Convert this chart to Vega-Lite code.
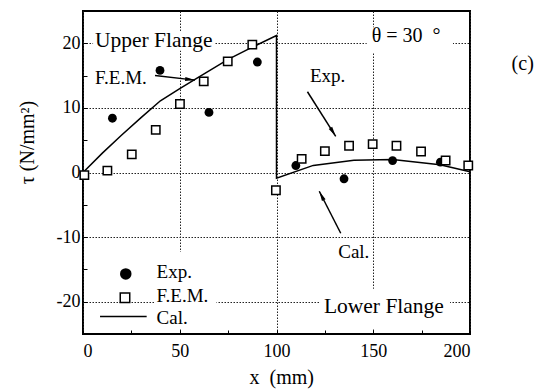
{
  "$schema": "https://vega.github.io/schema/vega-lite/v6.json",
  "autosize": {"type": "none"},
  "padding": {"left": 83, "top": 11, "right": 69, "bottom": 58},
  "width": 387,
  "height": 323,
  "background": "white",
  "config": {
    "font": "Liberation Serif",
    "view": {"stroke": "black", "strokeWidth": 2},
    "axis": {
      "domain": false,
      "tickColor": "black",
      "tickWidth": 1,
      "tickSize": -4,
      "labelColor": "black",
      "labelFont": "Liberation Serif",
      "labelFontSize": 18,
      "titleFont": "Liberation Serif",
      "titleFontSize": 20,
      "titleFontWeight": "normal",
      "titleColor": "black",
      "gridColor": "#222",
      "gridDash": [1.5, 1.5],
      "gridWidth": 1
    }
  },
  "datasets": {
    "boxes": [
      {"x": 5.2, "x2": 68.2, "y": 18.9, "y2": 21.8},
      {"x": 146.6, "x2": 191.2, "y": 18.5, "y2": 22.5},
      {"x": 122.5, "x2": 189.7, "y": -24.2, "y2": -18},
      {"x": 37, "x2": 69, "y": -24.2, "y2": -12.3}
    ],
    "lines": [
      {"id": "cal", "seq": 1, "x": 0, "y": 0},
      {"id": "cal", "seq": 2, "x": 10, "y": 3.0},
      {"id": "cal", "seq": 3, "x": 20, "y": 5.8},
      {"id": "cal", "seq": 4, "x": 30, "y": 8.5},
      {"id": "cal", "seq": 5, "x": 40, "y": 11.1},
      {"id": "cal", "seq": 6, "x": 50, "y": 13.0},
      {"id": "cal", "seq": 7, "x": 60, "y": 14.8},
      {"id": "cal", "seq": 8, "x": 75, "y": 17.5},
      {"id": "cal", "seq": 9, "x": 87.5, "y": 19.4},
      {"id": "cal", "seq": 10, "x": 100, "y": 21.2},
      {"id": "cal", "seq": 11, "x": 100, "y": -0.9},
      {"id": "cal", "seq": 12, "x": 119, "y": 1.1},
      {"id": "cal", "seq": 13, "x": 140, "y": 1.9},
      {"id": "cal", "seq": 14, "x": 160, "y": 2.0},
      {"id": "cal", "seq": 15, "x": 184.5, "y": 1.2},
      {"id": "cal", "seq": 16, "x": 200, "y": 0.1},
      {"id": "legend", "seq": 1, "x": 8.8, "y": -22.3},
      {"id": "legend", "seq": 2, "x": 32.9, "y": -22.3},
      {"id": "arrowFEM", "seq": 1, "x": 37.2, "y": 15.0},
      {"id": "arrowFEM", "seq": 2, "x": 57.9, "y": 14.3},
      {"id": "arrowExp", "seq": 1, "x": 116.0, "y": 12.5},
      {"id": "arrowExp", "seq": 2, "x": 130.6, "y": 5.6},
      {"id": "arrowCal", "seq": 1, "x": 133.2, "y": -9.4},
      {"id": "arrowCal", "seq": 2, "x": 122.1, "y": -2.9}
    ],
    "tips": [
      {"id": "arrowFEM", "x": 57.9, "y": 14.3},
      {"id": "arrowExp", "x": 130.6, "y": 5.6},
      {"id": "arrowCal", "x": 122.1, "y": -2.9}
    ],
    "exp": [
      {"x": 15.2, "y": 8.4},
      {"x": 39.8, "y": 15.8},
      {"x": 65.1, "y": 9.3},
      {"x": 90.1, "y": 17.1},
      {"x": 110.0, "y": 1.08},
      {"x": 134.9, "y": -0.97},
      {"x": 160.0, "y": 1.85},
      {"x": 184.7, "y": 1.6}
    ],
    "fem": [
      {"x": 0.7, "y": -0.4},
      {"x": 12.6, "y": 0.3},
      {"x": 25.2, "y": 2.8},
      {"x": 37.6, "y": 6.6},
      {"x": 50.1, "y": 10.6},
      {"x": 62.4, "y": 14.1},
      {"x": 74.8, "y": 17.2},
      {"x": 87.5, "y": 19.8},
      {"x": 99.7, "y": -2.75},
      {"x": 113.0, "y": 2.1},
      {"x": 125.0, "y": 3.3},
      {"x": 137.5, "y": 4.15},
      {"x": 149.7, "y": 4.4},
      {"x": 162.0, "y": 4.15},
      {"x": 174.7, "y": 3.25},
      {"x": 187.4, "y": 1.85},
      {"x": 199.1, "y": 1.08}
    ],
    "legendExp": [{"x": 22.1, "y": -15.7}],
    "legendFem": [{"x": 21.7, "y": -19.4}],
    "labels": [
      {"grp": "big", "x": 6.2, "y": 19.5, "t": "Upper Flange"},
      {"grp": "big", "x": 124.5, "y": -21.8, "t": "Lower Flange"},
      {"grp": "mid", "x": 149.2, "y": 20.2, "t": "θ\u00a0=\u00a030\u00a0\u00a0°"},
      {"grp": "mid", "x": 221.5, "y": 15.8, "t": "(c)"},
      {"grp": "small", "x": 6.2, "y": 13.7, "t": "F.E.M."},
      {"grp": "small", "x": 117.3, "y": 14.05, "t": "Exp."},
      {"grp": "small", "x": 131.9, "y": -13.3, "t": "Cal."},
      {"grp": "small", "x": 38, "y": -16.4, "t": "Exp."},
      {"grp": "small", "x": 38, "y": -20.1, "t": "F.E.M."},
      {"grp": "small", "x": 38, "y": -23.45, "t": "Cal."}
    ]
  },
  "encoding": {
    "x": {
      "field": "x",
      "type": "quantitative",
      "scale": {"domain": [0, 200], "nice": false, "zero": false},
      "axis": {
        "values": [0, 25, 50, 75, 100, 125, 150, 175, 200],
        "labelExpr": "datum.value % 50 === 0 ? '' + datum.value : ''",
        "gridOpacity": {"condition": {"test": "datum.value % 50 !== 0", "value": 0}, "value": 1},
        "labelPadding": 12,
        "title": "x\u00a0\u00a0(mm)",
        "titleAlign": "left",
        "titleBaseline": "alphabetic",
        "titleX": 166,
        "titleY": 49
      }
    },
    "y": {
      "field": "y",
      "type": "quantitative",
      "scale": {"domain": [-25, 25], "nice": false, "zero": false},
      "axis": {
        "values": [-20, -15, -10, -5, 0, 5, 10, 15, 20],
        "labelExpr": "datum.value % 10 === 0 ? '' + datum.value : ''",
        "gridOpacity": {"condition": {"test": "datum.value % 10 !== 0", "value": 0}, "value": 1},
        "labelPadding": 7,
        "title": "τ (N/mm²)",
        "titleAngle": 270,
        "titleAlign": "center",
        "titleBaseline": "alphabetic",
        "titleX": -50,
        "titleY": 131
      }
    }
  },
  "layer": [
    {
      "data": {"name": "boxes"},
      "mark": {"type": "rect", "fill": "white", "stroke": null},
      "encoding": {"x2": {"field": "x2"}, "y2": {"field": "y2"}}
    },
    {
      "data": {"name": "lines"},
      "mark": {"type": "line", "color": "black", "strokeWidth": 1.5},
      "encoding": {"detail": {"field": "id"}, "order": {"field": "seq"}}
    },
    {
      "data": {"name": "tips"},
      "transform": [{"filter": "datum.id === 'arrowFEM'"}],
      "mark": {"type": "point", "shape": "M0,0L-0.45,2.2L0.45,2.2Z", "filled": true, "color": "black", "size": 81, "angle": 96, "opacity": 1}
    },
    {
      "data": {"name": "tips"},
      "transform": [{"filter": "datum.id === 'arrowExp'"}],
      "mark": {"type": "point", "shape": "M0,0L-0.45,2.2L0.45,2.2Z", "filled": true, "color": "black", "size": 81, "angle": 148, "opacity": 1}
    },
    {
      "data": {"name": "tips"},
      "transform": [{"filter": "datum.id === 'arrowCal'"}],
      "mark": {"type": "point", "shape": "M0,0L-0.45,2.2L0.45,2.2Z", "filled": true, "color": "black", "size": 81, "angle": 333, "opacity": 1}
    },
    {
      "data": {"name": "exp"},
      "mark": {"type": "circle", "color": "black", "size": 78, "opacity": 1}
    },
    {
      "data": {"name": "fem"},
      "mark": {"type": "square", "fill": "white", "stroke": "black", "strokeWidth": 1.5, "size": 70, "opacity": 1}
    },
    {
      "data": {"name": "legendExp"},
      "mark": {"type": "circle", "color": "black", "size": 133, "opacity": 1}
    },
    {
      "data": {"name": "legendFem"},
      "mark": {"type": "square", "fill": "white", "stroke": "black", "strokeWidth": 1.5, "size": 90, "opacity": 1}
    },
    {
      "data": {"name": "labels"},
      "transform": [{"filter": "datum.grp === 'big'"}],
      "mark": {"type": "text", "align": "left", "baseline": "alphabetic", "fontSize": 21.5, "color": "black", "font": "Liberation Serif"},
      "encoding": {"text": {"field": "t"}}
    },
    {
      "data": {"name": "labels"},
      "transform": [{"filter": "datum.grp === 'mid'"}],
      "mark": {"type": "text", "align": "left", "baseline": "alphabetic", "fontSize": 20, "color": "black", "font": "Liberation Serif"},
      "encoding": {"text": {"field": "t"}}
    },
    {
      "data": {"name": "labels"},
      "transform": [{"filter": "datum.grp === 'small'"}],
      "mark": {"type": "text", "align": "left", "baseline": "alphabetic", "fontSize": 19, "color": "black", "font": "Liberation Serif"},
      "encoding": {"text": {"field": "t"}}
    }
  ]
}
